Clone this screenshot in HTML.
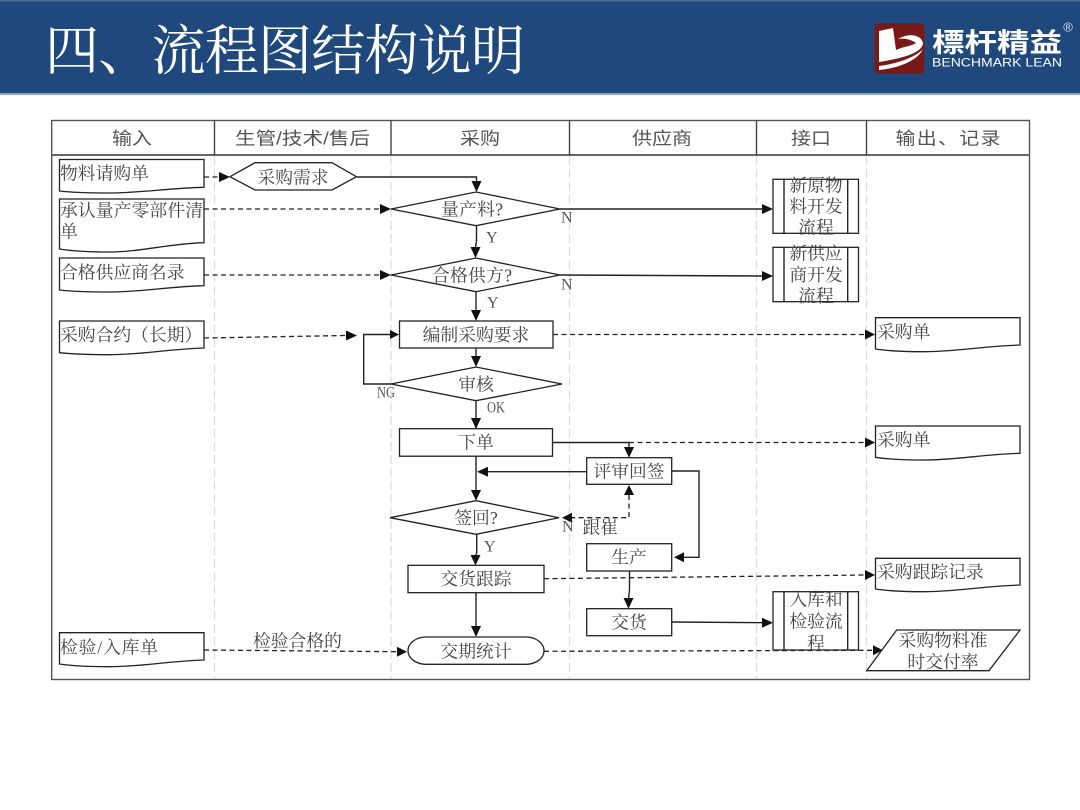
<!DOCTYPE html>
<html><head><meta charset="utf-8">
<style>
html,body{margin:0;padding:0;background:#fff;width:1080px;height:810px;overflow:hidden}
svg{display:block}
.t{font-family:"Liberation Serif","Noto Serif CJK SC",serif;font-size:17.8px;fill:#444;dominant-baseline:central;transform:translateY(.7px)}
.m{text-anchor:middle}
.h{font-family:"Liberation Sans","Noto Sans CJK SC",sans-serif;font-size:20px;fill:#555;text-anchor:middle;dominant-baseline:central}
.l{font-family:"Liberation Serif",serif;font-size:16px;fill:#555;dominant-baseline:central}
.s{fill:#fff;stroke:#222;stroke-width:1.3}
.c{fill:none;stroke:#222;stroke-width:1.4}
.d{fill:none;stroke:#222;stroke-width:1.3;stroke-dasharray:5 3.5}
.a{fill:#111}
</style></head><body>
<svg width="1080" height="810" viewBox="0 0 1080 810" xmlns="http://www.w3.org/2000/svg">
<rect width="1080" height="810" fill="#fff"/>
<rect x="0" y="0" width="1080" height="94" fill="#1f497d"/>
<rect x="0" y="0" width="1080" height="1.5" fill="#4a6d9c"/>
<rect x="0" y="93" width="1080" height="2" fill="#8fa5c0"/>
<text x="45" y="47" font-family="'Noto Serif CJK SC',serif" font-size="54" fill="#fff" dominant-baseline="central" textLength="480" lengthAdjust="spacing">四、流程图结构说明</text>

<rect x="874.5" y="23" width="50" height="51" rx="5" fill="#7a1a18"/>
<path d="M879 31 L893 28 L896 50 C905 46 912 46 916 43 C910 39 904 38 898 39 C908 33 921 34 923 43 C923 52 905 58 879 62 Z" fill="#fff"/>
<path d="M879 66 C895 64 915 58 923 49 C918 60 900 68 879 70 Z" fill="#fff"/>
<text transform="translate(932,41) scale(1,.82)" font-family="'Noto Sans CJK SC',sans-serif" font-weight="700" font-size="32.5" fill="#fff" dominant-baseline="central" textLength="130" lengthAdjust="spacing">標杆精益</text>
<text x="932" y="63.5" font-family="'Liberation Sans',sans-serif" font-size="11.5" fill="#fff" dominant-baseline="central" textLength="130" lengthAdjust="spacingAndGlyphs">BENCHMARK LEAN</text>
<text x="1068" y="27" font-family="'Liberation Sans',sans-serif" font-size="13" fill="#dde" text-anchor="middle" dominant-baseline="central">®</text>

<!-- lanes -->
<g stroke="#ddd" stroke-width="1.3" stroke-dasharray="9 4" fill="none">
<path d="M214.5 156V679M391 156V679M569.5 156V679M756.5 156V679M866.5 156V679"/>
</g>
<!-- frame -->
<rect x="51.7" y="120.5" width="977.8" height="559" fill="none" stroke="#555" stroke-width="1.4"/>
<path d="M51.7 155H1029.5" stroke="#666" stroke-width="2" fill="none"/>
<path d="M214.5 120.5V155M391 120.5V155M569.5 120.5V155M756.5 120.5V155M866.5 120.5V155" stroke="#444" stroke-width="1.4" fill="none"/>
<text class="h" transform="translate(132,138.5) scale(1,.88)">输入</text>
<text class="h" transform="translate(302.5,138.5) scale(1,.88)" textLength="135" lengthAdjust="spacingAndGlyphs">生管/技术/售后</text>
<text class="h" transform="translate(480,138.5) scale(1,.88)">采购</text>
<text class="h" transform="translate(662,138.5) scale(1,.88)">供应商</text>
<text class="h" transform="translate(811,138.5) scale(1,.88)">接口</text>
<text class="h" transform="translate(948,138.5) scale(1,.88)" textLength="105" lengthAdjust="spacing">输出、记录</text>

<!-- connectors -->
<path class="d" d="M204 177H220"/>
<path class="c" d="M357 177H476.5V182"/>
<path class="d" d="M204 209H381"/>
<path class="d" d="M204 275H381"/>
<path class="d" d="M204 338L346 335.5"/>
<path class="c" d="M476.5 226V241L475.5 247"/>
<path class="c" d="M476 292V310"/>
<path class="c" d="M476 348V357"/>
<path class="c" d="M391 384H363.7V334.5H390"/>
<path class="c" d="M476 401V429"/>
<path class="c" d="M560 209H763"/>
<path class="c" d="M560 275L763 276"/>
<path class="d" d="M553 334.5H866"/>
<path class="c" d="M552 442.5H629V448"/>
<path class="d" d="M629 442.5H866"/>
<path class="c" d="M586.7 471.7H487"/>
<path class="c" d="M476 456V491"/>
<path class="d" d="M629 495V517.7H572"/>
<path class="c" d="M671.7 471H699V557.3H684"/>
<path class="c" d="M476.7 534V553L475.5 556"/>
<path class="c" d="M629.5 571V590L628.5 599"/>
<path class="d" d="M544 578.7L866 575"/>
<path class="c" d="M476 592.7V627"/>
<path class="c" d="M671.7 622L763 622.7"/>
<path class="d" d="M204 650L397 651.7"/>
<path class="d" d="M544 651.3L873 650.3"/>

<!-- arrowheads -->
<g class="a">
<path d="M230 177L219 172V182Z"/>
<path d="M476.5 192L471.5 181H481.5Z"/>
<path d="M391 209L380 204V214Z"/>
<path d="M391 275L380 270V280Z"/>
<path d="M357 335.5L346 330.5V340.5Z"/>
<path d="M475.5 258L470.5 247H480.5Z"/>
<path d="M476 321L471 310H481Z"/>
<path d="M476 367L471 356H481Z"/>
<path d="M399 334.5L390 330V339Z"/>
<path d="M476 429L471 418H481Z"/>
<path d="M773 209L762 204V214Z"/>
<path d="M773 276L762 271V281Z"/>
<path d="M875 334.5L865 329.5V339.5Z"/>
<path d="M629 457.7L624 447H634Z"/>
<path d="M875 442.5L865 437.5V447.5Z"/>
<path d="M477 471.7L488 466.7V476.7Z"/>
<path d="M476 500.7L471 490H481Z"/>
<path d="M629 485L624 495H634Z"/>
<path d="M562 517.7L572 512.7V522.7Z"/>
<path d="M674 557.3L684 552.3V562.3Z"/>
<path d="M475.5 565.3L470.5 555H480.5Z"/>
<path d="M628.5 608.7L623.5 598H633.5Z"/>
<path d="M875 575L865 570V580Z"/>
<path d="M476 637L471 626H481Z"/>
<path d="M773 622.7L762 617.7V627.7Z"/>
<path d="M407 651.7L397 646.7V656.7Z"/>
<path d="M883 650.3L873 645.3V655.3Z"/>
</g>

<!-- input documents -->
<path class="s" d="M59.5 159.5H204V187.3C170 188 140 193 110 193C90 193 72 192.5 59.5 191Z"/>
<text class="t" x="60" y="173">物料请购单</text>
<path class="s" d="M59.5 199H204V242.7C170 243.5 140 252 110 252C90 252 72 251 59.5 249Z"/>
<text class="t" x="60" y="210" textLength="143" lengthAdjust="spacing">承认量产零部件清</text>
<text class="t" x="60" y="231">单</text>
<path class="s" d="M59.5 258H204V285.7C170 286.5 140 292 110 292C90 292 72 291.5 59.5 290Z"/>
<text class="t" x="60" y="272">合格供应商名录</text>
<path class="s" d="M59.5 321H204V348C170 349 140 354.7 110 354.7C90 354.7 72 354 59.5 352.7Z"/>
<text class="t" x="60" y="334.5">采购合约（长期）</text>
<path class="s" d="M59.5 632.7H204V660C170 661 140 666.7 110 666.7C90 666.7 72 666 59.5 664Z"/>
<text class="t" x="60" y="647" textLength="98" lengthAdjust="spacing">检验/入库单</text>
<text class="t" x="253" y="640.5">检验合格的</text>

<!-- flow nodes -->
<path class="s" d="M230 176.7L255 162.7H332L356.5 176.7L332 190H255Z"/>
<text class="t m" x="293" y="177">采购需求</text>
<path class="s" d="M391 209L476 192L560 209L476 225.7Z"/>
<text class="t m" x="472" y="209" textLength="62" lengthAdjust="spacing">量产料?</text>
<path class="s" d="M391 275L476 258L560 275L476 291.7Z"/>
<text class="t m" x="472" y="275" textLength="80" lengthAdjust="spacing">合格供方?</text>
<rect class="s" x="399.5" y="321" width="153.5" height="27"/>
<text class="t m" x="476" y="334.5">编制采购要求</text>
<path class="s" d="M391 384L476 367L562 384L476 400.7Z"/>
<text class="t m" x="476" y="384">审核</text>
<rect class="s" x="399.5" y="428.7" width="153" height="27.5"/>
<text class="t m" x="476" y="442">下单</text>
<rect class="s" x="586.7" y="457.7" width="85" height="26.6"/>
<text class="t m" x="629" y="471">评审回签</text>
<path class="s" d="M390 517.7L476 500.7L559 517.7L476 534.3Z"/>
<text class="t m" x="476" y="517.5">签回?</text>
<rect class="s" x="586.7" y="543.7" width="85" height="27.3"/>
<text class="t m" x="629" y="557">生产</text>
<rect class="s" x="408" y="565.3" width="136" height="27.4"/>
<text class="t m" x="476" y="578.5">交货跟踪</text>
<rect class="s" x="586.7" y="608.7" width="85" height="27"/>
<text class="t m" x="629" y="622">交货</text>
<rect class="s" x="408" y="637" width="136" height="27.3" rx="18" ry="13.6"/>
<text class="t m" x="476" y="651">交期统计</text>

<!-- predefined process -->
<rect class="s" x="773" y="179.3" width="85.5" height="54"/>
<path class="c" d="M784 179.3V233.3M847.7 179.3V233.3"/>
<text class="t m" x="816" y="185">新原物</text><text class="t m" x="816" y="206">料开发</text><text class="t m" x="816" y="227">流程</text>
<rect class="s" x="773" y="247.3" width="85.5" height="54.4"/>
<path class="c" d="M784 247.3V301.7M847.7 247.3V301.7"/>
<text class="t m" x="816" y="253">新供应</text><text class="t m" x="816" y="274.5">商开发</text><text class="t m" x="816" y="295.5">流程</text>
<rect class="s" x="773" y="591.7" width="85.5" height="58.3"/>
<path class="c" d="M784 591.7V650M847.7 591.7V650"/>
<text class="t m" x="816" y="599">入库和</text><text class="t m" x="816" y="621">检验流</text><text class="t m" x="816" y="643">程</text>

<!-- output documents -->
<path class="s" d="M875.5 317.7H1020V345C985 346 955 351.7 925 351.7C905 351.7 888 351 875.5 349Z"/>
<text class="t" x="877" y="331.5">采购单</text>
<path class="s" d="M875.5 426H1020V453.3C985 454.3 955 460 925 460C905 460 888 459.3 875.5 457.3Z"/>
<text class="t" x="877" y="439.5">采购单</text>
<path class="s" d="M875.5 558.3H1020V585C985 586 955 591.7 925 591.7C905 591.7 888 591 875.5 589Z"/>
<text class="t" x="877" y="571.5">采购跟踪记录</text>
<path class="s" d="M896.7 630H1020L989 670.7H866.7Z"/>
<text class="t m" x="943" y="640">采购物料准</text>
<text class="t m" x="943" y="661.5">时交付率</text>

<!-- labels -->
<text class="l" x="561" y="218">N</text>
<text class="l" x="561" y="285">N</text>
<text class="l" x="486" y="238">Y</text>
<text class="l" x="487" y="303">Y</text>
<text class="l" x="377" y="393" textLength="18" lengthAdjust="spacingAndGlyphs">NG</text>
<text class="l" x="487" y="408" textLength="18" lengthAdjust="spacingAndGlyphs">OK</text>
<text class="l" x="562" y="527">N</text>
<text class="t" x="582.5" y="527">跟崔</text>
<text class="l" x="484" y="547">Y</text>
</svg>
</body></html>
